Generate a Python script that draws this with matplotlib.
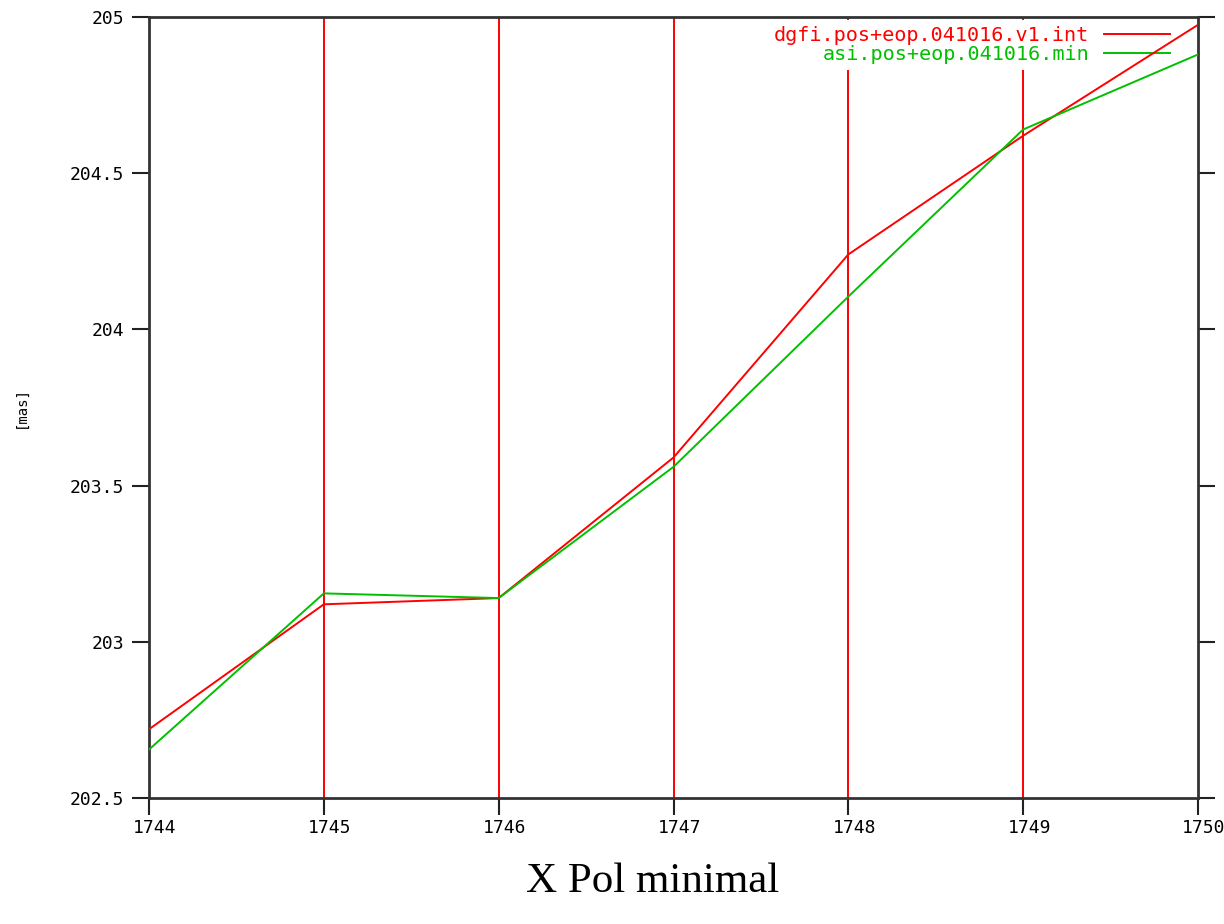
import matplotlib
matplotlib.use("Agg")
import matplotlib.pyplot as plt
from matplotlib.transforms import ScaledTranslation

days = [1744, 1745, 1746, 1747, 1748, 1749, 1750]
dgfi = [202.72, 203.12, 203.14, 203.59, 204.24, 204.62, 204.975]
asi = [202.655, 203.155, 203.14, 203.56, 204.105, 204.64, 204.88]
series_names = ["dgfi.pos+eop.041016.v1.int", "asi.pos+eop.041016.min"]
series_colors = ["#ff0000", "#00c000"]
xticks = [1744, 1745, 1746, 1747, 1748, 1749, 1750]
yticks = [202.5, 203, 203.5, 204, 204.5, 205]
ytick_labels = ["202.5", "203", "203.5", "204", "204.5", "205"]
grid_days = [1745, 1746, 1747, 1748, 1749]
title = "X Pol minimal"
ylabel = "[mas]"

fig = plt.figure(figsize=(12.24, 9.24), dpi=100)
ax = fig.add_axes([149/1224, 1 - 798/924, (1198-149)/1224, (798-17)/924])

for d in grid_days:
    ax.axvline(d, color="#ff0000", lw=1.4, zorder=1)

for vals, name, col in zip([dgfi, asi], series_names, series_colors):
    ax.plot(days, vals, color=col, lw=1.4, label=name, zorder=3)

ax.set_xlim(1744, 1750)
ax.set_ylim(202.5, 205)
ax.set_xticks(xticks)
ax.set_xticklabels([str(t) for t in xticks], fontfamily="DejaVu Sans Mono", fontsize=13)
ax.set_yticks(yticks)
ax.set_yticklabels(ytick_labels, fontfamily="DejaVu Sans Mono", fontsize=13)
ax.tick_params(axis="both", direction="out", length=12, width=1.5, color="#222222")
ax.tick_params(axis="y", right=True, pad=6)
ax.tick_params(axis="x", pad=3)
offset = ScaledTranslation(6/100, 0, fig.dpi_scale_trans)
for lbl in ax.get_xticklabels():
    lbl.set_transform(lbl.get_transform() + offset)
for s in ax.spines.values():
    s.set_linewidth(2)
    s.set_color("#333333")

leg = ax.legend(loc="upper right", markerfirst=False, frameon=True, facecolor="white",
                edgecolor="none", framealpha=1, fancybox=False,
                prop={"family": "DejaVu Sans Mono", "size": 14.5},
                labelcolor="linecolor", handlelength=3.3, handletextpad=0.7,
                labelspacing=0.0, borderaxespad=0.0, borderpad=0.3)
leg.set_bbox_to_anchor((1 - 22/1049, 1.0 - 3/781), transform=ax.transAxes)
leg.set_zorder(2)

fig.text(21/1224, 1 - 407/924, ylabel, rotation=90, ha="center", va="center",
         fontfamily="DejaVu Sans Mono", fontsize=10)
fig.text(653/1224, 1 - 882/924, title, ha="center", va="center",
         fontfamily="Liberation Serif", fontsize=31)

fig.savefig("out.png", dpi=100)
